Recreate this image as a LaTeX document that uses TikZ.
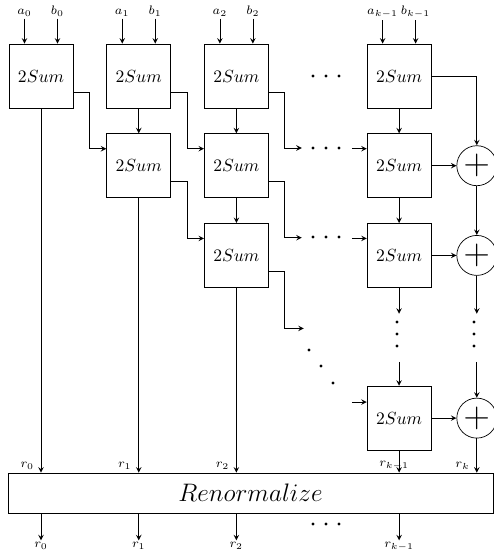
\documentclass[tikz,border=0pt]{standalone}
\usetikzlibrary{shapes,arrows,positioning}

\begin{document}
\begin{tikzpicture}[
    node distance=0.5cm and 0.66cm,
    sumbox/.style={draw, rectangle, minimum width=1.28cm, minimum height=1.28cm, align=center, font=\normalsize},
    adder/.style={draw, circle, minimum size=0.8cm, inner sep=0pt, font=\huge},
    arrow/.style={->, >=stealth},
    lab/.style={font=\scriptsize, inner sep=1pt}
  ]
    \useasboundingbox (0,0) rectangle (9.88,-11.08);

    % first row of 2Sum blocks
    \node[sumbox] (s00) at (0.82,-1.52) {$2Sum$};
    \node[sumbox, right=of s00] (s10) {$2Sum$};
    \node[sumbox, right=of s10] (s20) {$2Sum$};
    \node[sumbox, right=1.96cm of s20] (sk0) {$2Sum$};

    % lower rows
    \node[sumbox, below=of s10] (s11) {$2Sum$};
    \node[sumbox, below=of s20] (s21) {$2Sum$};
    \node[sumbox, below=of s21] (s22) {$2Sum$};
    \node[sumbox, below=of sk0] (sk1) {$2Sum$};
    \node[sumbox, below=of sk1] (sk2) {$2Sum$};
    \node[sumbox, below=1.96cm of sk2] (skl) {$2Sum$};

    % adders
    \node[adder, right=0.5cm of sk1] (c1) {$+$};
    \node[adder, right=0.5cm of sk2] (c2) {$+$};
    \node[adder, right=0.5cm of skl] (c3) {$+$};

    \node[draw, minimum width=9.7cm, minimum height=0.8cm, font=\fontsize{13.5}{16}\selectfont] (ren) at (5.01,-9.86) {$Renormalize$};

    % inputs
    \node[lab, anchor=base] (a0) at ([xshift=-0.33cm, yshift=0.58cm]s00.north) {$a_0$};
    \node[lab, anchor=base] (b0) at ([xshift=0.33cm, yshift=0.58cm]s00.north) {$b_0$};
    \node[lab, anchor=base] (a1) at ([xshift=-0.33cm, yshift=0.58cm]s10.north) {$a_1$};
    \node[lab, anchor=base] (b1) at ([xshift=0.33cm, yshift=0.58cm]s10.north) {$b_1$};
    \node[lab, anchor=base] (a2) at ([xshift=-0.33cm, yshift=0.58cm]s20.north) {$a_2$};
    \node[lab, anchor=base] (b2) at ([xshift=0.33cm, yshift=0.58cm]s20.north) {$b_2$};
    \node[lab, anchor=base] (ak) at ([xshift=-0.33cm, yshift=0.58cm]sk0.north) {$a_{k-1}$};
    \node[lab, anchor=base] (bk) at ([xshift=0.33cm, yshift=0.58cm]sk0.north) {$b_{k-1}$};

    \draw[arrow] (a0) -- (a0 |- s00.north);
    \draw[arrow] (b0) -- (b0 |- s00.north);
    \draw[arrow] (a1) -- (a1 |- s10.north);
    \draw[arrow] (b1) -- (b1 |- s10.north);
    \draw[arrow] (a2) -- (a2 |- s20.north);
    \draw[arrow] (b2) -- (b2 |- s20.north);
    \draw[arrow] (ak) -- (ak |- sk0.north);
    \draw[arrow] (bk) -- (bk |- sk0.north);

    % carries down the columns
    \draw[arrow] (s10) -- (s11);
    \draw[arrow] (s20) -- (s21);
    \draw[arrow] (s21) -- (s22);
    \draw[arrow] (sk0) -- (sk1);
    \draw[arrow] (sk1) -- (sk2);
    \draw[arrow] (sk2.south) -- ++(0,-0.52);
    \draw[arrow] ([yshift=0.48cm]skl.north) -- (skl.north);

    % errors to the next column
    \draw[arrow] ([yshift=-0.32cm]s00.east) -- ++(0.32,0) |- ([yshift=0.34cm]s11.west);
    \draw[arrow] ([yshift=-0.32cm]s10.east) -- ++(0.32,0) |- ([yshift=0.34cm]s21.west);
    \draw[arrow] ([yshift=-0.32cm]s11.east) -- ++(0.32,0) |- ([yshift=0.34cm]s22.west);
    \draw[arrow] ([yshift=-0.32cm]s20.east) -- ++(0.32,0) -- ++(0,-1.12) -- ++(0.34,0);
    \draw[arrow] ([yshift=-0.32cm]s21.east) -- ++(0.32,0) -- ++(0,-1.12) -- ++(0.34,0);
    \draw[arrow] ([yshift=-0.32cm]s22.east) -- ++(0.32,0) -- ++(0,-1.14) -- ++(0.38,0);
    \draw[arrow] ([xshift=-0.3cm, yshift=0.34cm]sk1.west) -- ([yshift=0.34cm]sk1.west);
    \draw[arrow] ([xshift=-0.3cm, yshift=0.34cm]sk2.west) -- ([yshift=0.34cm]sk2.west);
    \draw[arrow] ([xshift=-0.3cm, yshift=0.32cm]skl.west) -- ([yshift=0.32cm]skl.west);

    % adder chain
    \draw[arrow] (sk0.east) -| (c1.north);
    \draw[arrow] (sk1) -- (c1);
    \draw[arrow] (sk2) -- (c2);
    \draw[arrow] (skl) -- (c3);
    \draw[arrow] (c1) -- (c2);
    \draw[arrow] (c2.south) -- ++(0,-0.76);
    \draw[arrow] ([yshift=0.72cm]c3.north) -- (c3.north);

    % dots
    \fill (6.26,-1.52) circle (0.9pt) (6.52,-1.52) circle (0.9pt) (6.78,-1.52) circle (0.9pt);
    \fill (6.26,-2.96) circle (0.9pt) (6.52,-2.96) circle (0.9pt) (6.78,-2.96) circle (0.9pt);
    \fill (6.26,-4.74) circle (0.9pt) (6.52,-4.74) circle (0.9pt) (6.78,-4.74) circle (0.9pt);
    \fill (6.18,-7.0) circle (0.9pt) (6.42,-7.32) circle (0.9pt) (6.66,-7.66) circle (0.9pt);
    \fill (7.94,-6.44) circle (0.9pt) (7.94,-6.68) circle (0.9pt) (7.94,-6.92) circle (0.9pt);
    \fill (9.48,-6.44) circle (0.9pt) (9.48,-6.68) circle (0.9pt) (9.48,-6.92) circle (0.9pt);
    \fill (6.26,-10.48) circle (0.9pt) (6.52,-10.48) circle (0.9pt) (6.78,-10.48) circle (0.9pt);

    % into the renormalization
    \draw[arrow] (s00.south) -- (s00.south |- ren.north) node[lab, above left=0.02cm and 0.1cm] (r0) {$r_0$};
    \draw[arrow] (s11.south) -- (s11.south |- ren.north) node[lab, above left=0.02cm and 0.1cm] (r1) {$r_1$};
    \draw[arrow] (s22.south) -- (s22.south |- ren.north) node[lab, above left=0.02cm and 0.1cm] (r2) {$r_2$};
    \draw[arrow] (skl.south) -- (skl.south |- ren.north) node[lab, above=0.02cm, xshift=-0.1cm] (rk1) {$r_{k-1}$};
    \draw[arrow] (c3.south) -- (c3.south |- ren.north) node[lab, above left=0.02cm and 0.1cm] (rk) {$r_k$};

    % outputs
    \draw[arrow] (s00.south |- ren.south) -- ++(0,-0.54) node[lab, below] (o0) {$r_0$};
    \draw[arrow] (s11.south |- ren.south) -- ++(0,-0.54) node[lab, below] (o1) {$r_1$};
    \draw[arrow] (s22.south |- ren.south) -- ++(0,-0.54) node[lab, below] (o2) {$r_2$};
    \draw[arrow] (skl.south |- ren.south) -- ++(0,-0.54) node[lab, below] (ok1) {$r_{k-1}$};
  \end{tikzpicture}
\end{document}
